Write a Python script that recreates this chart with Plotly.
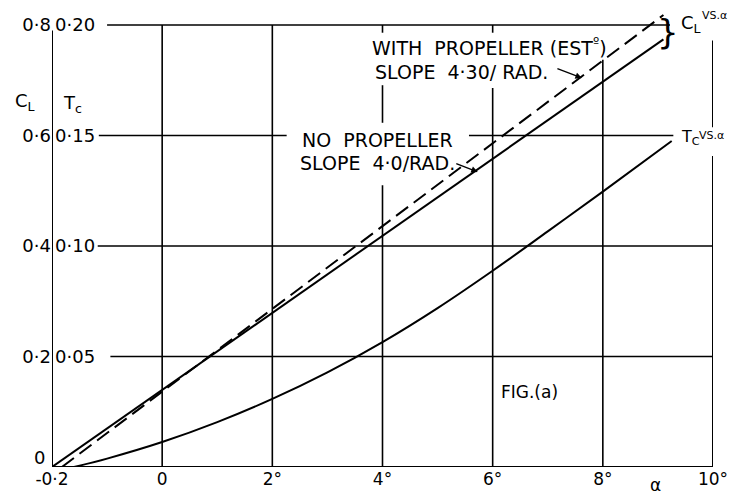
import plotly.graph_objects as go

# ---- data ----
alpha_no_prop = [-2.0, 9.1]
cl_no_prop = [0.0, 0.774]

alpha_with_prop = [-1.82, 9.1]
cl_with_prop = [0.0, 0.818]

alpha_tc = [-1.6, -1.0, 0.0, 1.0, 2.0, 3.0, 4.0, 5.0, 6.0, 7.0, 8.0, 9.25]
tc_values = [0.0, 0.0038, 0.0113, 0.0203, 0.0308, 0.0428, 0.0565, 0.0719, 0.0888, 0.1066, 0.1246, 0.1475]

alpha_ticks = [-2, 0, 2, 4, 6, 8, 10]
alpha_tick_labels = ["-0·2", "0", "2°", "4°", "6°", "8°", "10°"]
cl_ticks = [0.2, 0.4, 0.6, 0.8]
cl_tick_labels = ["0·2", "0·4", "0·6", "0·8"]
tc_ticks = [0.05, 0.10, 0.15, 0.20]
tc_tick_labels = ["0·05", "0·10", "0·15", "0·20"]

FONT = "DejaVu Sans"
INK = "black"
CL_TOP = 0.8217

fig = go.Figure()
fig.add_trace(go.Scatter(x=alpha_no_prop, y=cl_no_prop, mode="lines",
                         line=dict(color=INK, width=2), showlegend=False, hoverinfo="skip"))
fig.add_trace(go.Scatter(x=alpha_with_prop, y=cl_with_prop, mode="lines",
                         line=dict(color=INK, width=2, dash="15px,7px"), showlegend=False, hoverinfo="skip"))
fig.add_trace(go.Scatter(x=alpha_tc, y=tc_values, mode="lines", yaxis="y2",
                         line=dict(color=INK, width=2, shape="spline", smoothing=1),
                         showlegend=False, hoverinfo="skip"))

# grid / frame segments (partial lines as in the drawing)
h_segments = [(0.8, -1.0, 9.22), (0.6, -1.15, 2.26), (0.6, 5.57, 9.28),
              (0.4, -1.17, 10), (0.2, -0.94, 10), (0.0, -2, 10)]
v_segments = [(-2, 0, 0.79), (0, 0, 0.8), (2, 0, 0.8),
              (4, 0.786, 0.8), (4, 0.623, 0.691), (4, 0, 0.51),
              (6, 0.786, 0.8), (6, 0, 0.686), (8, 0, 0.737),
              (10, 0, 0.563), (10, 0.615, 0.772)]
shapes = []
for c, a0, a1 in h_segments:
    shapes.append(dict(type="line", xref="x", yref="y", x0=a0, x1=a1, y0=c, y1=c,
                       line=dict(color=INK, width=2 if c == 0 else 1.6)))
for a, c0, c1 in v_segments:
    shapes.append(dict(type="line", xref="x", yref="y", x0=a, x1=a, y0=c0, y1=c1,
                       line=dict(color=INK, width=2 if a in (-2, 10) else 1.6)))

ann = []
def txt(x, y, s, size=19, xanchor="left", xref="x", yref="y", yanchor="middle"):
    ann.append(dict(x=x, y=y, xref=xref, yref=yref, text=s, showarrow=False,
                    xanchor=xanchor, yanchor=yanchor, borderpad=0,
                    font=dict(family=FONT, size=size, color=INK)))

txt(3.80, 0.760, "WITH  PROPELLER (EST<sup>º</sup>)")
txt(3.84, 0.715, "SLOPE  4·30/ RAD.")
txt(2.52, 0.592, "NO  PROPELLER")
txt(2.48, 0.550, "SLOPE  4·0/RAD.")
txt(9.40, 0.788, "}", size=34, xanchor="right")
txt(9.40, 0.802, "C<sub>L</sub>", size=18)
txt(9.78, 0.818, "VS.α", size=11)
txt(9.40, 0.597, "T<sub>C</sub>", size=16)
txt(9.72, 0.600, "VS.α", size=11)
txt(6.66, 0.136, "FIG.(a)", size=17, xanchor="center")
# labels that sit outside the data range use paper coordinates
txt(8.95, -0.040, "α", size=17, xanchor="center", yref="paper")
txt(-0.041, 0.661, "C<sub>L</sub>", size=18, xanchor="center", xref="paper")
txt(-1.62, 0.657, "T<sub>c</sub>", size=18, xanchor="center")
txt(-0.009, 0.020, "0", size=18, xanchor="right", xref="paper", yref="paper")

# arrows from slope notes to the lines
ann.append(dict(x=7.62, y=0.704, xref="x", yref="y", ax=-26, ay=-10, text="",
                showarrow=True, arrowhead=2, arrowsize=1, arrowwidth=1.3, arrowcolor=INK))
ann.append(dict(x=5.73, y=0.534, xref="x", yref="y", ax=-23, ay=-9, text="",
                showarrow=True, arrowhead=2, arrowsize=1, arrowwidth=1.3, arrowcolor=INK))

# the page body has an 8px margin, so the figure is sized to fit the 740x495 window
fig.update_layout(
    width=732, height=487,
    margin=dict(l=44, r=27, t=5, b=28),
    paper_bgcolor="white", plot_bgcolor="white",
    font=dict(family=FONT, size=17, color=INK),
    shapes=shapes, annotations=ann,
    xaxis=dict(range=[-2, 10], tickvals=alpha_ticks, ticktext=alpha_tick_labels,
               showgrid=False, zeroline=False, showline=False, ticks="",
               tickfont=dict(family=FONT, size=17, color=INK)),
    yaxis=dict(range=[0, CL_TOP], tickvals=cl_ticks, ticktext=cl_tick_labels,
               showgrid=False, zeroline=False, showline=False, ticks="",
               tickfont=dict(family=FONT, size=18, color=INK)),
    yaxis2=dict(range=[0, CL_TOP / 4], overlaying="y", side="left",
                tickvals=tc_ticks, ticktext=tc_tick_labels,
                ticklabelposition="inside", ticklabeloverflow="allow",
                showgrid=False, zeroline=False, showline=False, ticks="",
                tickfont=dict(family=FONT, size=18, color=INK)),
)

fig.write_html("out.html")
